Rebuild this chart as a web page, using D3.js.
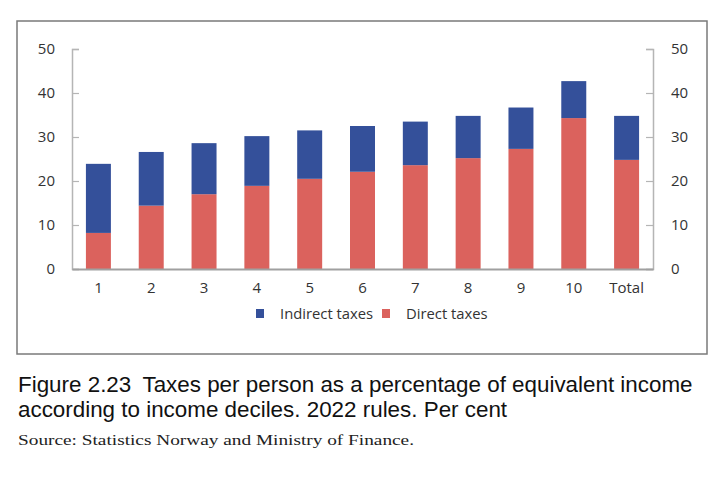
<!DOCTYPE html>
<html lang="en">
<head>
    <meta charset="UTF-8">
    <title>Taxes per person by income decile</title>
    <script src="https://d3js.org/d3.v7.min.js"></script>
    <style>
        body { margin: 0; background: #fff; }
        svg { display: block; }
        .tick text { font-family: "Open Sans", sans-serif; fill: #333; }
    </style>
</head>
<body>
    <script>
        const w = 720;
        const h = 478;

        // data (per cent)
        const deciles = ["1", "2", "3", "4", "5", "6", "7", "8", "9", "10", "Total"];
        const directTaxes = [8.2, 14.4, 17.0, 18.9, 20.5, 22.1, 23.6, 25.2, 27.3, 34.3, 24.8];
        const indirectTaxes = [15.7, 12.2, 11.6, 11.3, 11.0, 10.4, 9.9, 9.6, 9.4, 8.4, 10.0];
        const yTicks = [0, 10, 20, 30, 40, 50];

        const blue = "#34509a";
        const red = "#db625d";

        const svg = d3.select("body")
            .append("svg")
            .attr("width", w)
            .attr("height", h);

        // frame around the chart
        svg.append("rect")
            .attr("x", 17)
            .attr("y", 21)
            .attr("width", 690)
            .attr("height", 333)
            .attr("fill", "none")
            .attr("stroke", "#7a7a7a")
            .attr("stroke-width", 1.5);

        const plotLeft = 72, plotRight = 653, plotTop = 49, plotBottom = 269;

        const x = d3.scaleBand()
            .domain(deciles)
            .range([plotLeft, plotRight])
            .paddingInner(0.527)
            .paddingOuter(0.2635);

        const y = d3.scaleLinear()
            .domain([0, 50])
            .range([plotBottom, plotTop]);

        const rows = deciles.map(function(d, i) {
            return { decile: d, direct: directTaxes[i], indirect: indirectTaxes[i] };
        });
        const stacked = d3.stack().keys(["direct", "indirect"])(rows);
        const colour = { direct: red, indirect: blue };

        svg.selectAll("g.series")
            .data(stacked)
            .enter()
            .append("g")
            .attr("class", "series")
            .attr("fill", function(s) { return colour[s.key]; })
            .selectAll("rect")
            .data(function(s) { return s; })
            .enter()
            .append("rect")
            .attr("x", function(d) { return x(d.data.decile); })
            .attr("width", x.bandwidth())
            .attr("y", function(d) { return y(d[1]); })
            .attr("height", function(d) { return y(d[0]) - y(d[1]); });

        // left axis, ticks pointing inward
        const yLeft = svg.append("g")
            .attr("transform", "translate(" + plotLeft + ",0)")
            .call(d3.axisRight(y).tickValues(yTicks).tickSize(7).tickFormat(d3.format("d")));
        yLeft.selectAll(".tick text")
            .attr("x", -17)
            .attr("text-anchor", "end")
            .style("font-size", "15px");

        const yRight = svg.append("g")
            .attr("transform", "translate(" + plotRight + ",0)")
            .call(d3.axisLeft(y).tickValues(yTicks).tickSize(7).tickFormat(d3.format("d")));
        yRight.selectAll(".tick text")
            .attr("x", 18)
            .attr("text-anchor", "start")
            .style("font-size", "15px");

        [yLeft, yRight].forEach(function(g) {
            g.select(".domain").attr("stroke", "#b5b5b5").attr("stroke-width", 1.5);
            g.selectAll(".tick line").attr("stroke", "#b5b5b5").attr("stroke-width", 1.2);
        });

        // bottom axis
        const xAxis = svg.append("g")
            .attr("transform", "translate(0," + plotBottom + ")")
            .call(d3.axisBottom(x).tickSize(0).tickSizeOuter(0));
        xAxis.select(".domain")
            .attr("stroke", "#a0a0a0")
            .attr("stroke-width", 2);
        xAxis.selectAll(".tick text")
            .attr("y", 13)
            .style("font-size", "15px");

        // legend
        const legendItems = [
            { label: "Indirect taxes", colour: blue, x: 256 },
            { label: "Direct taxes", colour: red, x: 382 }
        ];
        const legend = svg.selectAll("g.legend")
            .data(legendItems)
            .enter()
            .append("g")
            .attr("class", "legend")
            .attr("transform", function(d) { return "translate(" + d.x + ",309)"; });
        legend.append("rect")
            .attr("width", 8)
            .attr("height", 9)
            .attr("fill", function(d) { return d.colour; });
        legend.append("text")
            .attr("x", 24)
            .attr("y", 10)
            .attr("font-family", "Open Sans, sans-serif")
            .attr("font-size", "14.8px")
            .attr("fill", "#333")
            .text(function(d) { return d.label; });

        // caption: one text, two lines, squeezed to the width of the original
        const titleLines = [
            "Figure 2.23\u2002Taxes per person as a percentage of equivalent income",
            "according to income deciles. 2022 rules. Per cent"
        ];
        const titleG = svg.append("g");
        const title = titleG.append("text")
            .attr("font-family", "Liberation Sans, sans-serif")
            .attr("font-size", "22px")
            .attr("fill", "#111");
        title.selectAll("tspan")
            .data(titleLines)
            .enter()
            .append("tspan")
            .attr("x", 0)
            .attr("y", function(d, i) { return 392 + i * 25; })
            .text(function(d) { return d; });
        const firstLine = title.select("tspan").node().getComputedTextLength();
        titleG.attr("transform", "translate(18,0) scale(" + (675 / firstLine) + ",1)");

        svg.append("text")
            .attr("x", 18)
            .attr("y", 445)
            .attr("font-family", "Liberation Serif, serif")
            .attr("font-size", "15.5px")
            .attr("fill", "#222")
            .attr("textLength", 396)
            .attr("lengthAdjust", "spacingAndGlyphs")
            .text("Source: Statistics Norway and Ministry of Finance.");
    </script>
</body>
</html>
